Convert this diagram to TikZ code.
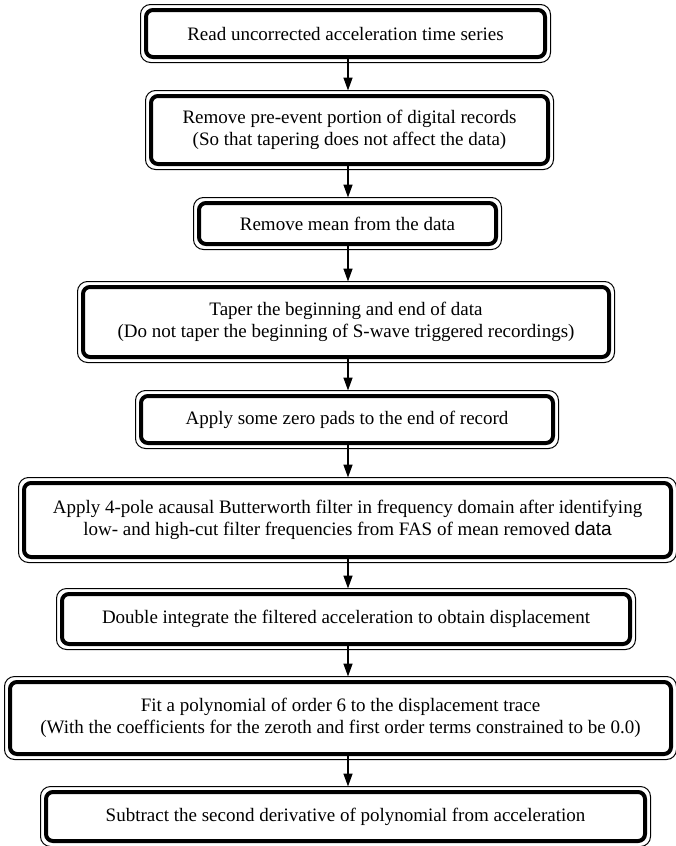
\documentclass[tikz,border=0pt]{standalone}
\usepackage{fontspec}
\setmainfont{Liberation Serif}
\newfontfamily\sansdata{Liberation Sans}
\usetikzlibrary{arrows.meta,calc}
\begin{document}
\begin{tikzpicture}[x=1pt,y=-1pt,
  stepbox/.style={draw, line width=4pt, rounded corners=7pt, align=center, inner sep=0pt,
    font=\fontsize{19}{22}\selectfont},
  outerline/.style={line width=1pt, rounded corners=10pt},
  arr/.style={line width=1.5pt, -{Triangle[length=13pt,width=9pt]}, shorten >=3.5pt},
]
\useasboundingbox (0,0) rectangle (676,846);
\coordinate (ax) at (348,0);

\node[stepbox, minimum width=399pt, minimum height=47pt] (b1) at (345.5,33.5)
  {Read uncorrected acceleration time series};
\node[stepbox, minimum width=397pt, minimum height=68pt] (b2) at (349.5,130)
  {Remove pre-event portion of digital records\\(So that tapering does not affect the data)};
\node[stepbox, minimum width=297pt, minimum height=41pt] (b3) at (347.5,223.5)
  {Remove mean from the data};
\node[stepbox, minimum width=526pt, minimum height=70pt] (b4) at (346,322)
  {Taper the beginning and end of data\\(Do not taper the beginning of S-wave triggered recordings)};
\node[stepbox, minimum width=412pt, minimum height=47pt] (b5) at (347,419.5)
  {Apply some zero pads to the end of record};
\node[stepbox, minimum width=647pt, minimum height=74pt] (b6) at (347.5,520)
  {Apply 4-pole acausal Butterworth filter in frequency domain after identifying\\low- and high-cut filter frequencies from FAS of mean removed {\sansdata data}};
\node[stepbox, minimum width=568pt, minimum height=50pt] (b7) at (346,619)
  {Double integrate the filtered acceleration to obtain displacement};
\node[stepbox, minimum width=661pt, minimum height=72pt] (b8) at (340.5,718)
  {Fit a polynomial of order 6 to the displacement trace\\(With the coefficients for the zeroth and first order terms constrained to be 0.0)};
\node[stepbox, minimum width=599pt, minimum height=49pt] (b9) at (345.5,816.5)
  {Subtract the second derivative of polynomial from acceleration};

\foreach \n in {b1,b2,b3,b4,b5,b6,b7,b8,b9}
  \draw[outerline] ([shift={(-3.5pt,-3.5pt)}]\n.south west) rectangle ([shift={(3.5pt,3.5pt)}]\n.north east);

\foreach \a/\b in {b1/b2,b2/b3,b3/b4,b4/b5,b5/b6,b6/b7,b7/b8,b8/b9}
  \draw[arr] (\a.south -| ax) -- (\b.north -| ax);
\end{tikzpicture}
\end{document}
